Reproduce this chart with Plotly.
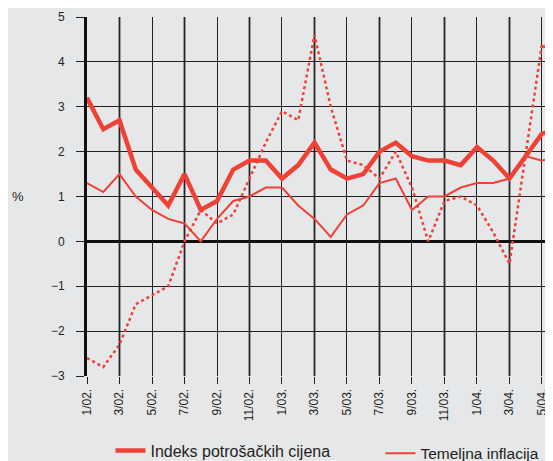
import plotly.graph_objects as go

months = ["1/02.", "2/02.", "3/02.", "4/02.", "5/02.", "6/02.", "7/02.", "8/02.", "9/02.", "10/02.", "11/02.", "12/02.",
          "1/03.", "2/03.", "3/03.", "4/03.", "5/03.", "6/03.", "7/03.", "8/03.", "9/03.", "10/03.", "11/03.", "12/03.",
          "1/04.", "2/04.", "3/04.", "4/04.", "5/04.", "6/04."]
cpi = [3.2, 2.5, 2.7, 1.6, 1.2, 0.8, 1.5, 0.7, 0.9, 1.6, 1.8, 1.8, 1.4, 1.7, 2.2, 1.6, 1.4, 1.5, 2.0, 2.2, 1.9, 1.8,
       1.8, 1.7, 2.1, 1.8, 1.4, 1.9, 2.4, 2.5]
core = [1.3, 1.1, 1.5, 1.0, 0.7, 0.5, 0.4, 0.0, 0.5, 0.9, 1.0, 1.2, 1.2, 0.8, 0.5, 0.1, 0.6, 0.8, 1.3, 1.4, 0.7, 1.0,
        1.0, 1.2, 1.3, 1.3, 1.4, 1.9, 1.8, 1.9]
third = [-2.6, -2.8, -2.3, -1.4, -1.2, -1.0, 0.0, 0.7, 0.4, 0.6, 1.4, 2.2, 2.9, 2.7, 4.6, 3.0, 1.8, 1.7, 1.4, 2.0, 1.2,
         0.0, 0.9, 1.0, 0.8, 0.2, -0.5, 1.9, 4.4, 3.9]
y_ticks = [-3, -2, -1, 0, 1, 2, 3, 4, 5]

x = list(range(len(months)))
red = "#ef4136"
txt = "#231f20"
bg = "#e6e7e9"

fig = go.Figure()
fig.add_trace(go.Scatter(x=x, y=third, mode="lines", line=dict(color=red, width=2.5, dash="dot"),
                         showlegend=False, name=""))
fig.add_trace(go.Scatter(x=x, y=cpi, mode="lines", line=dict(color=red, width=4.5),
                         name="Indeks potrošačkih cijena", legend="legend"))
fig.add_trace(go.Scatter(x=x, y=core, mode="lines", line=dict(color=red, width=2),
                         name="Temeljna inflacija", legend="legend2"))

tick_idx = x[::2]
for i in tick_idx:
    if i % 4 == 2:
        fig.add_shape(type="line", xref="x", yref="paper", x0=i, x1=i, y0=0, y1=1,
                      line=dict(color="#808080", width=2.5), layer="between")

fig.update_layout(
    width=553, height=461,
    margin=dict(l=79, r=0, t=9, b=93, autoexpand=False),
    paper_bgcolor=bg, plot_bgcolor=bg,
    font=dict(family="Liberation Sans, Arial, sans-serif", size=12, color=txt),
    legend=dict(orientation="h", x=0.0495, xanchor="left", yref="container", y=0.04, yanchor="middle",
                font=dict(size=16, color=txt), bgcolor="rgba(0,0,0,0)"),
    legend2=dict(orientation="h", x=0.619, xanchor="left", yref="container", y=0.033, yanchor="middle",
                 font=dict(size=15.5, color=txt), bgcolor="rgba(0,0,0,0)"),
    xaxis=dict(range=[0, 29.17], tickvals=tick_idx, ticktext=[months[i] for i in tick_idx],
               tickangle=-90, showgrid=True, gridcolor="#222", gridwidth=1, automargin=False,
               ticks="outside", ticklen=7, tickcolor="#222", tickwidth=1,
               zeroline=False, showline=False, tickfont=dict(size=12)),
    yaxis=dict(range=[-3, 5], tickvals=y_ticks, showgrid=True, gridcolor="#222", gridwidth=1,
               ticks="outside", ticklen=8, tickcolor="#222", tickwidth=1, automargin=False,
               ticklabelstandoff=9,
               zeroline=True, zerolinecolor="#111", zerolinewidth=2.5,
               showline=True, linecolor="#111", linewidth=3, tickfont=dict(size=12)),
    annotations=[dict(text="%", xref="paper", yref="paper", x=-0.146, y=0.5, xanchor="center",
                      yanchor="middle", showarrow=False, font=dict(size=13, color=txt))],
)

fig.write_html("out.html")
